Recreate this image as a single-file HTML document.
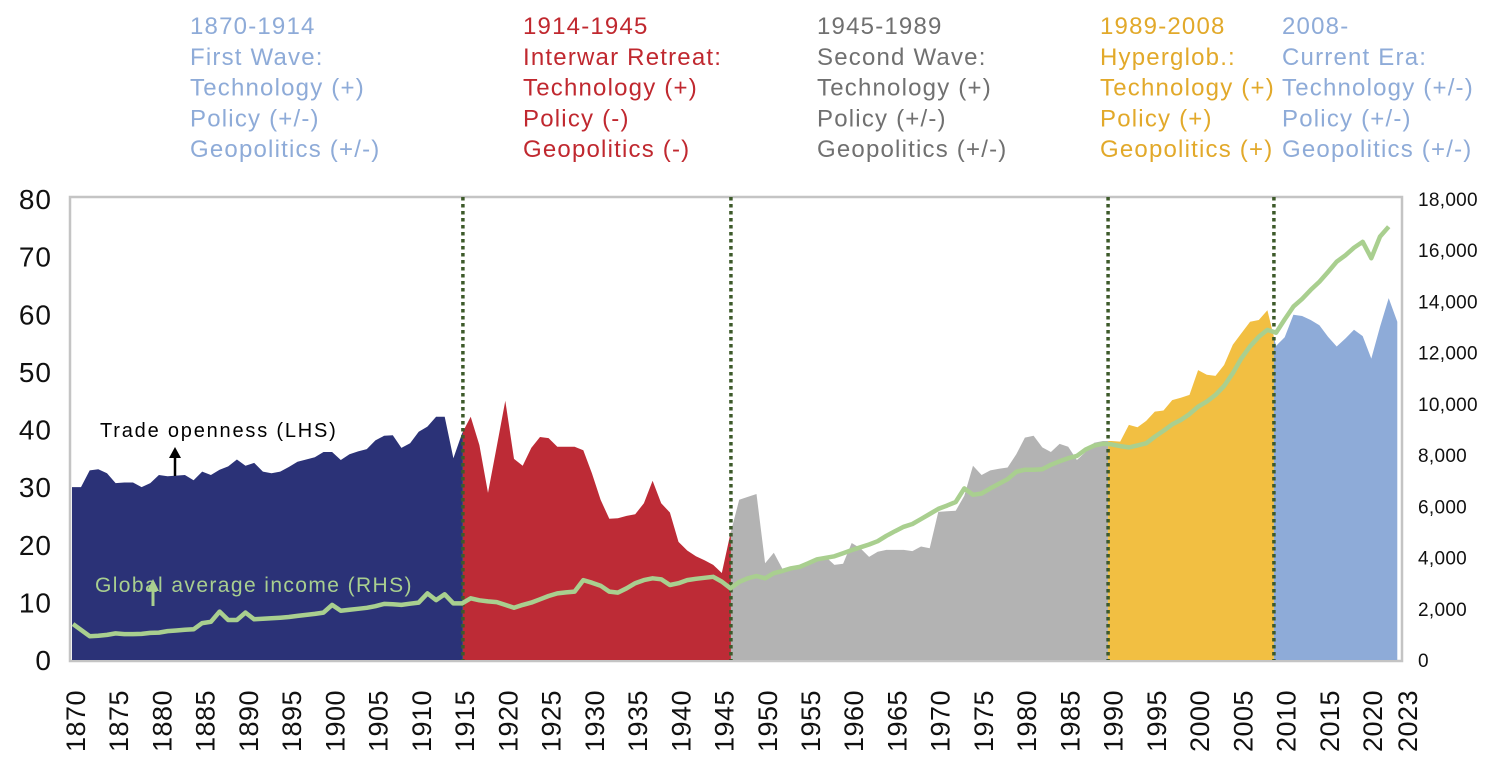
<!DOCTYPE html>
<html><head><meta charset="utf-8"><style>
html,body{margin:0;padding:0;background:#fff;}
svg{display:block;font-family:"Liberation Sans",sans-serif;}
</style></head><body>
<svg id="chart" width="1492" height="768" viewBox="0 0 1492 768" xmlns="http://www.w3.org/2000/svg">
<defs>
<clipPath id="c0"><rect id="r0" y="190" height="480"/></clipPath>
<clipPath id="c1"><rect id="r1" y="190" height="480"/></clipPath>
<clipPath id="c2"><rect id="r2" y="190" height="480"/></clipPath>
<clipPath id="c3"><rect id="r3" y="190" height="480"/></clipPath>
<clipPath id="c4"><rect id="r4" y="190" height="480"/></clipPath>
</defs>
<g id="eras" font-size="24" letter-spacing="1.2"></g>
<rect x="70" y="197" width="1332" height="464" fill="none" stroke="#c4c4c4" stroke-width="2.5"/>
<g id="areas"></g>
<g id="vlines"></g>
<path id="incomeLine" fill="none" stroke="#a9cf8f" stroke-width="4.5" stroke-linejoin="round"/>
<g id="yl" font-size="28" letter-spacing="1" text-anchor="end" fill="#111"></g>
<g id="yr" font-size="19" letter-spacing="0.3" fill="#111"></g>
<g id="xl" font-size="27" letter-spacing="0.5" fill="#111"></g>
<text x="100" y="437" font-size="20" letter-spacing="1.8" fill="#000">Trade openness (LHS)</text>
<line x1="175" y1="476" x2="175" y2="456" stroke="#000" stroke-width="2.5"/>
<polygon points="169,458 181,458 175,447" fill="#000"/>
<text x="95" y="592" font-size="21" letter-spacing="1.4" fill="#a9cf8f">Global average income (RHS)</text>
<line x1="153" y1="606" x2="153" y2="588" stroke="#a9cf8f" stroke-width="3"/>
<polygon points="147,591 159,591 153,579" fill="#a9cf8f"/>
</svg>
<script>
const startYear = 1870;
const tradeOpenness = [
30,32.9,33.1,32.4,30.7,30.8,30.8,30,30.7,32.1,31.9,32,32.1,31.2,32.7,32.1,33,33.6,34.8,33.7,34.2,32.7,32.4,32.7,33.5,34.4,34.8,35.2,36.1,36.1,34.7,35.7,36.2,36.6,38.1,38.9,39,36.8,37.6,39.6,40.5,42.2,42.2,35,39.3,
42.2,37.3,29,37,45,34.9,33.7,36.8,38.7,38.5,37,37,37,36.4,32.4,27.8,24.5,24.6,25,25.3,27.2,31.1,27.2,25.6,20.5,19,18,17.3,16.5,15.1,22,
27.8,28.3,28.8,16.8,18.6,15.8,15.6,16.4,17,17.4,17.9,16.5,16.7,20.3,19.4,17.9,18.8,19.1,19.1,19.1,18.9,19.7,19.4,25.7,25.8,25.9,28.5,33.7,32.1,32.9,33.2,33.4,35.7,38.6,38.9,36.9,36.1,37.5,37,34.7,36.1,37.7,38,38,
37.9,40.8,40.4,41.5,43.1,43.3,45.1,45.5,46,50.3,49.5,49.3,51.2,54.7,56.7,58.7,59,60.7,54.5,56,59.9,59.7,59,58.1,56.1,54.4,55.8,57.3,56.2,52.3,57.8,62.8,58.7];
const globalIncome = [
1400,930,950,980,1040,1010,1010,1020,1060,1070,1130,1150,1180,1200,1440,1490,1890,1560,1560,1850,1590,1610,1630,1650,1680,1720,1760,1800,1850,2150,1925,1960,2000,2040,2100,2190,2180,2150,2200,2240,2600,2340,2565,2210,2210,
2410,2330,2290,2260,2150,2040,2150,2240,2370,2500,2600,2640,2670,3120,3020,2900,2670,2630,2800,3000,3120,3190,3150,2930,3000,3120,3170,3210,3250,3060,2800,
3050,3190,3280,3190,3390,3480,3580,3640,3780,3930,3990,4050,4170,4290,4400,4510,4640,4850,5030,5200,5310,5500,5700,5900,6030,6170,6700,6450,6500,6700,6880,7060,7350,7430,7430,7450,7620,7760,7880,7970,8220,8370,8440,8420,
8350,8300,8380,8460,8720,8950,9200,9370,9600,9890,10090,10350,10700,11200,11780,12250,12620,12890,12780,13300,13800,14100,14450,14770,15150,15550,15800,16100,16330,15690,16530,16920];
const eraBoundaries = [1914.1, 1945.05, 1988.6, 2007.75];
const eraColors = ["#2b3277","#bd2b36","#b3b3b3","#f2bf42","#8eabd8"];
const leftTicks = [0,10,20,30,40,50,60,70,80];
const rightTicks = [0,2000,4000,6000,8000,10000,12000,14000,16000,18000];
const xTickYears = [1870,1875,1880,1885,1890,1895,1900,1905,1910,1915,1920,1925,1930,1935,1940,1945,1950,1955,1960,1965,1970,1975,1980,1985,1990,1995,2000,2005,2010,2015,2020,2023];
const eraTitles = ["1870-1914","1914-1945","1945-1989","1989-2008","2008-"];
const eraNames = ["First Wave:","Interwar Retreat:","Second Wave:","Hyperglob.:","Current Era:"];
const eraTech = ["Technology (+)","Technology (+)","Technology (+)","Technology (+)","Technology (+/-)"];
const eraPolicy = ["Policy (+/-)","Policy (-)","Policy (+/-)","Policy (+)","Policy (+/-)"];
const eraGeo = ["Geopolitics (+/-)","Geopolitics (-)","Geopolitics (+/-)","Geopolitics (+)","Geopolitics (+/-)"];

const NS="http://www.w3.org/2000/svg";
const PL=72, PR=1401, PB=660, PT=199;
function x(yr){return 81+(yr-startYear)*8.66;}
function xLab(yr){return 75+(yr-startYear)*8.647;}
function yL(v){return PB-(v/80)*(PB-PT);}
function yR(v){return PB-(v/18000)*(PB-PT);}
function mk(tag,attrs,parent){const e=document.createElementNS(NS,tag);for(const k in attrs)e.setAttribute(k,attrs[k]);parent.appendChild(e);return e;}

let d="M"+PL+","+PB+" L"+PL+","+yL(tradeOpenness[0]);
tradeOpenness.forEach((v,i)=>{d+=" L"+x(startYear+i).toFixed(1)+","+yL(v).toFixed(1);});
d+=" L"+x(startYear+tradeOpenness.length-1).toFixed(1)+","+PB+" Z";
const edges=[PL].concat(eraBoundaries.map(x)).concat([PR]);
const areas=document.getElementById('areas');
for(let i=0;i<5;i++){
  const r=document.getElementById('r'+i);
  r.setAttribute('x',edges[i]);r.setAttribute('width',edges[i+1]-edges[i]);
  const p=mk('path',{d:d,fill:eraColors[i],'clip-path':'url(#c'+i+')'},areas);
  
  
}
const vl=document.getElementById('vlines');
eraBoundaries.forEach((b,i)=>{
  const l=mk('line',{x1:x(b),x2:x(b),y1:PT-2,y2:PB,stroke:'#3d5a2a','stroke-width':3.5,'stroke-dasharray':'3.5 3.5'},vl);
  
  
});
let li="";
globalIncome.forEach((v,i)=>{const px=i===0?PL+1:x(startYear+i);li+=(i?" L":"M")+px.toFixed(1)+","+yR(v).toFixed(1);});
document.getElementById('incomeLine').setAttribute('d',li);
const yl=document.getElementById('yl');
leftTicks.forEach(v=>{const t=mk('text',{x:52,y:yL(v)+10},yl);t.textContent=v;
  
  });
const yrg=document.getElementById('yr');
rightTicks.forEach(v=>{const t=mk('text',{x:1418,y:yR(v)+7},yrg);t.textContent=v.toLocaleString('en-US');
  
  });
const xl=document.getElementById('xl');
xTickYears.forEach(yr=>{const cx=(yr===2023?1407:xLab(yr));const t=mk('text',{x:0,y:0,transform:'translate('+(cx+10)+',752) rotate(-90)'},xl);t.textContent=yr;
  
  });
const eraX=[190,523,817,1100,1282];
const eraCol=["#8eabd8","#c0282f","#707070","#e2a92a","#8eabd8"];
const eg=document.getElementById('eras');
for(let i=0;i<5;i++){
  const lines=[eraTitles[i],eraNames[i],eraTech[i],eraPolicy[i],eraGeo[i]];
  lines.forEach((s,j)=>{const t=mk('text',{x:eraX[i],y:34+j*30.8,fill:eraCol[i]},eg);t.textContent=s;
    
    });
}
</script>
</body></html>
